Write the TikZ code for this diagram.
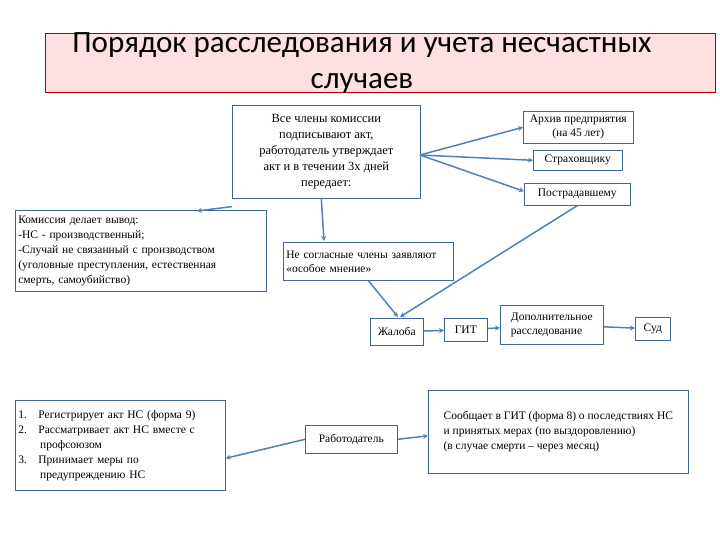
\documentclass[tikz,border=0pt]{standalone}
\usepackage{fontspec}
\setmainfont{Liberation Serif}
\newfontfamily\titlefont{Carlito}
\usetikzlibrary{arrows.meta}
\definecolor{ln}{HTML}{4F81BD}
\definecolor{bx}{HTML}{4F81BD}
\tikzset{
 bbox/.style={draw=bx!80!black,line width=0.6pt,fill=white,inner sep=2.5pt,font=\fontsize{11.5}{14}\selectfont},
 arr/.style={draw=ln,line width=1.5pt,-{Stealth[length=5pt,width=5pt]}}
}
\begin{document}
\begin{tikzpicture}[x=1pt,y=-1pt]
\useasboundingbox (0,0) rectangle (720,540);
\fill[white] (0,0) rectangle (720,540);
\node[draw=red!70!black,fill=red!12,minimum width=670,minimum height=59,anchor=north west,inner sep=0] (tb) at (45,33) {};
\node[font=\titlefont\fontsize{31}{36}\selectfont,align=center] (title) at (362,63) {Порядок расследования и учета несчастных\\случаев};
\node[bbox,minimum width=188,minimum height=93,anchor=north west,align=center,font=\fontsize{12.5}{16}\selectfont] (main) at (232,105) {Все члены комиссии\\подписывают акт,\\работодатель утверждает\\акт  и в течении 3х дней\\передает:};
\node[bbox,minimum width=110,minimum height=32,anchor=north west,align=center] (arch) at (523,111) {Архив предприятия\\(на 45 лет)};
\node[bbox,minimum width=89,minimum height=20,anchor=north west] (strah) at (533,150) {Страховщику};
\node[bbox,minimum width=106,minimum height=22,anchor=north west] (postr) at (524,183) {Пострадавшему};
\node[bbox,minimum width=251,minimum height=81,anchor=north west,align=left,text width=245,font=\fontsize{11.5}{15}\selectfont] (kom) at (15,210) {Комиссия делает вывод:\\-НС - производственный;\\-Случай не связанный с производством\\(уголовные преступления, естественная\\смерть, самоубийство)};
\node[bbox,minimum width=170,minimum height=38,anchor=north west,align=left,text width=164] (ne) at (283,242) {Не согласные члены заявляют\\«особое мнение»};
\node[bbox,minimum width=53,minimum height=27,anchor=north west] (zh) at (370,318) {Жалоба};
\node[bbox,minimum width=43,minimum height=23,anchor=north west] (git) at (444,318) {ГИТ};
\node[bbox,minimum width=103,minimum height=39,anchor=north west,align=left] (dop) at (500,305) {Дополнительное\\расследование};
\node[bbox,minimum width=35,minimum height=23,anchor=north west] (sud) at (635,317) {Суд};
\node[bbox,minimum width=92,minimum height=28,anchor=north west] (rab) at (305,425) {Работодатель};
\node[bbox,minimum width=210,minimum height=90,anchor=north west,align=left,text width=204,font=\fontsize{11.5}{15}\selectfont] (list) at (15,400) {1.\hspace{1em}Регистрирует акт НС (форма 9)\\2.\hspace{1em}Рассматривает акт НС вместе с\\\hspace*{1.9em}профсоюзом\\3.\hspace{1em}Принимает меры по\\\hspace*{1.9em}предупреждению НС};
\node[bbox,minimum width=260,minimum height=83,anchor=north west,align=left,font=\fontsize{11.5}{15}\selectfont] (soob) at (428,390) {Сообщает в ГИТ (форма 8) о последствиях НС\\ и принятых мерах (по выздоровлению)\\ (в случае смерти – через месяц)};
\coordinate (hub) at (420,155);
\draw[arr] (hub) -- (arch.west);
\draw[arr] (hub) -- (strah.west);
\draw[arr] (hub) -- ([yshift=3]postr.west);
\draw[arr] ([yshift=-8]main.south west) -- (197,211);
\draw[arr] ([xshift=-5]main.south) -- (324,241);
\draw[arr] (ne.south) -- (398,317);
\draw[arr] (postr.south) -- (400,317);
\draw[arr] (zh) -- (git);
\draw[arr] (git) -- (dop);
\draw[arr] (dop) -- (sud);
\draw[arr] (rab.west) -- ([yshift=-13]list.east);
\draw[arr] (rab.east) -- ([yshift=-4]soob.west);
\end{tikzpicture}
\end{document}
